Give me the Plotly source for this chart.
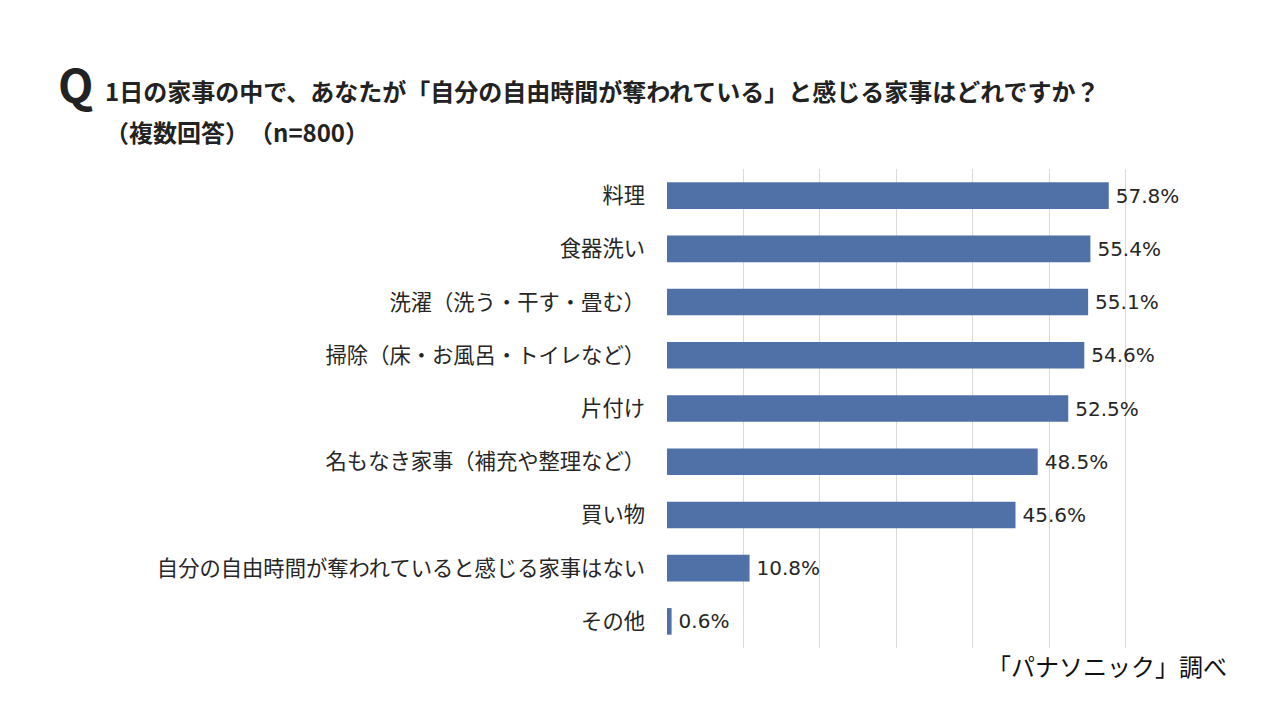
import plotly.graph_objects as go

categories = [
    "料理",
    "食器洗い",
    "洗濯（洗う・干す・畳む）",
    "掃除（床・お風呂・トイレなど）",
    "片付け",
    "名もなき家事（補充や整理など）",
    "買い物",
    "自分の自由時間が奪われていると感じる家事はない",
    "その他",
]
values = [57.8, 55.4, 55.1, 54.6, 52.5, 48.5, 45.6, 10.8, 0.6]

title_q = "Q"
title_line1 = "1日の家事の中で、あなたが「自分の自由時間が奪われている」と感じる家事はどれですか？"
title_line2 = "（複数回答）　（n=800）"
source_text = "「パナソニック」調べ"

FONT = "Noto Sans CJK JP"
NUM_FONT = "DejaVu Sans"
BAR_COLOR = "#4F71A8"
TEXT_COLOR = "#262626"

L, R, T, B = 667, 78, 169, 72

fig = go.Figure(
    go.Bar(
        x=values,
        y=categories,
        orientation="h",
        marker=dict(color=BAR_COLOR, line=dict(width=0)),
        width=0.5,
        text=["\u2009" + f"{v:.1f}%" for v in values],
        textposition="outside",
        textfont=dict(family=NUM_FONT, size=20, color=TEXT_COLOR),
        cliponaxis=False,
    )
)

fig.update_layout(
    width=1280,
    height=720,
    margin=dict(l=L, r=R, t=T, b=B),
    paper_bgcolor="white",
    plot_bgcolor="white",
    showlegend=False,
    font=dict(family=FONT, color=TEXT_COLOR),
    xaxis=dict(
        range=[0, 70],
        dtick=10,
        showgrid=True,
        gridcolor="#DADADA",
        gridwidth=1,
        zeroline=False,
        showticklabels=False,
        showline=False,
        ticks="",
    ),
    yaxis=dict(
        autorange="reversed",
        showgrid=False,
        showline=False,
        ticks="",
        tickfont=dict(family=FONT, size=21.3, color=TEXT_COLOR),
        ticklabelstandoff=21,
    ),
    annotations=[
        dict(text=f"<b>{title_q}</b>", x=56, y=83, xref="paper", yref="paper",
             showarrow=False, font=dict(family=FONT, size=46, color="#222222"),
             xanchor="left", yanchor="middle"),
        dict(text=f"<b>{title_line1}</b>", x=103, y=90, xref="paper", yref="paper",
             showarrow=False, font=dict(family=FONT, size=24, color="#222222"),
             xanchor="left", yanchor="middle"),
        dict(text=f"<b>{title_line2}</b>", x=103, y=132, xref="paper", yref="paper",
             showarrow=False, font=dict(family=FONT, size=24, color="#222222"),
             xanchor="left", yanchor="middle"),
        dict(text=source_text, x=1229, y=665, xref="paper", yref="paper",
             showarrow=False, font=dict(family=FONT, size=24, color="#111111"),
             xanchor="right", yanchor="middle"),
    ],
)

# convert pixel positions for annotations to paper coords
pw = 1280 - L - R
ph = 720 - T - B
for a in fig.layout.annotations:
    px, py = a.x, a.y
    a.x = (px - L) / pw
    a.y = 1 - (py - T) / ph

fig.write_html("out.html")
